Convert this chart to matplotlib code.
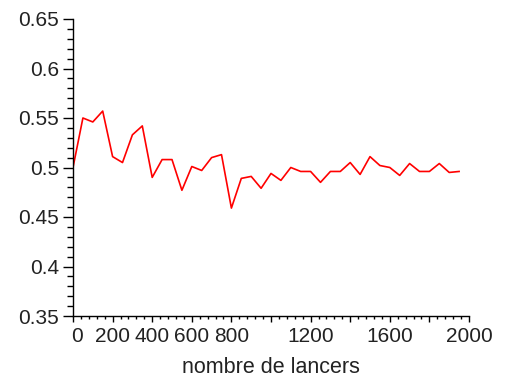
import matplotlib
matplotlib.use('Agg')
import matplotlib.pyplot as plt
import matplotlib.transforms as mtransforms
from matplotlib.ticker import MultipleLocator

# number of throws and observed frequency
lancers = list(range(0, 2000, 50))
frequence = [
    0.500, 0.550, 0.546, 0.557, 0.511, 0.505, 0.533, 0.542, 0.490, 0.508,
    0.508, 0.477, 0.501, 0.497, 0.510, 0.513, 0.459, 0.489, 0.491, 0.479,
    0.494, 0.487, 0.500, 0.496, 0.496, 0.485, 0.496, 0.496, 0.505, 0.493,
    0.511, 0.502, 0.500, 0.492, 0.504, 0.496, 0.496, 0.504, 0.495, 0.496,
]

x_ticks = [0, 200, 400, 600, 800, 1000, 1200, 1400, 1600, 1800, 2000]
x_labels = ['0', '200', '400', '600', '800', '', '1200', '', '1600', '', '2000']
y_ticks = [0.35, 0.4, 0.45, 0.5, 0.55, 0.6, 0.65]
y_labels = ['0.35', '0.4', '0.45', '0.5', '0.55', '0.6', '0.65']

plt.rcParams['font.family'] = ['Liberation Sans', 'DejaVu Sans']

fig = plt.figure(figsize=(5.07, 3.78), dpi=100)
ax = fig.add_axes([73 / 507, 62 / 378, 396 / 507, 297 / 378])

ax.plot(lancers, frequence, color='#ff0000', linewidth=1.2)

ax.set_xlim(0, 2000)
ax.set_ylim(0.35, 0.65)

# Maple style axes: only left and bottom
for side in ['top', 'right']:
    ax.spines[side].set_visible(False)
for side in ['left', 'bottom']:
    ax.spines[side].set_linewidth(1.0)

ax.set_xticks(x_ticks)
ax.set_xticklabels(x_labels, fontsize=15, color='#222222')
ax.set_yticks(y_ticks)
ax.set_yticklabels(y_labels, fontsize=15, color='#222222')
ax.xaxis.set_minor_locator(MultipleLocator(40))
ax.yaxis.set_minor_locator(MultipleLocator(0.01))

ax.tick_params(axis='x', which='major', length=4, width=1, pad=4, color='black')
ax.tick_params(axis='x', which='minor', length=2, width=1)
ax.tick_params(axis='y', which='major', length=7, width=1, pad=3)
ax.tick_params(axis='y', which='minor', length=4, width=1)

# shift the "0" label a bit to the right like in the original
first = ax.get_xticklabels()[0]
first.set_transform(first.get_transform() + mtransforms.ScaledTranslation(4 / 100, 0, fig.dpi_scale_trans))

ax.set_xlabel('nombre de lancers', fontsize=15.5, labelpad=8, color='#222222')

fig.savefig('out.png', dpi=100)
